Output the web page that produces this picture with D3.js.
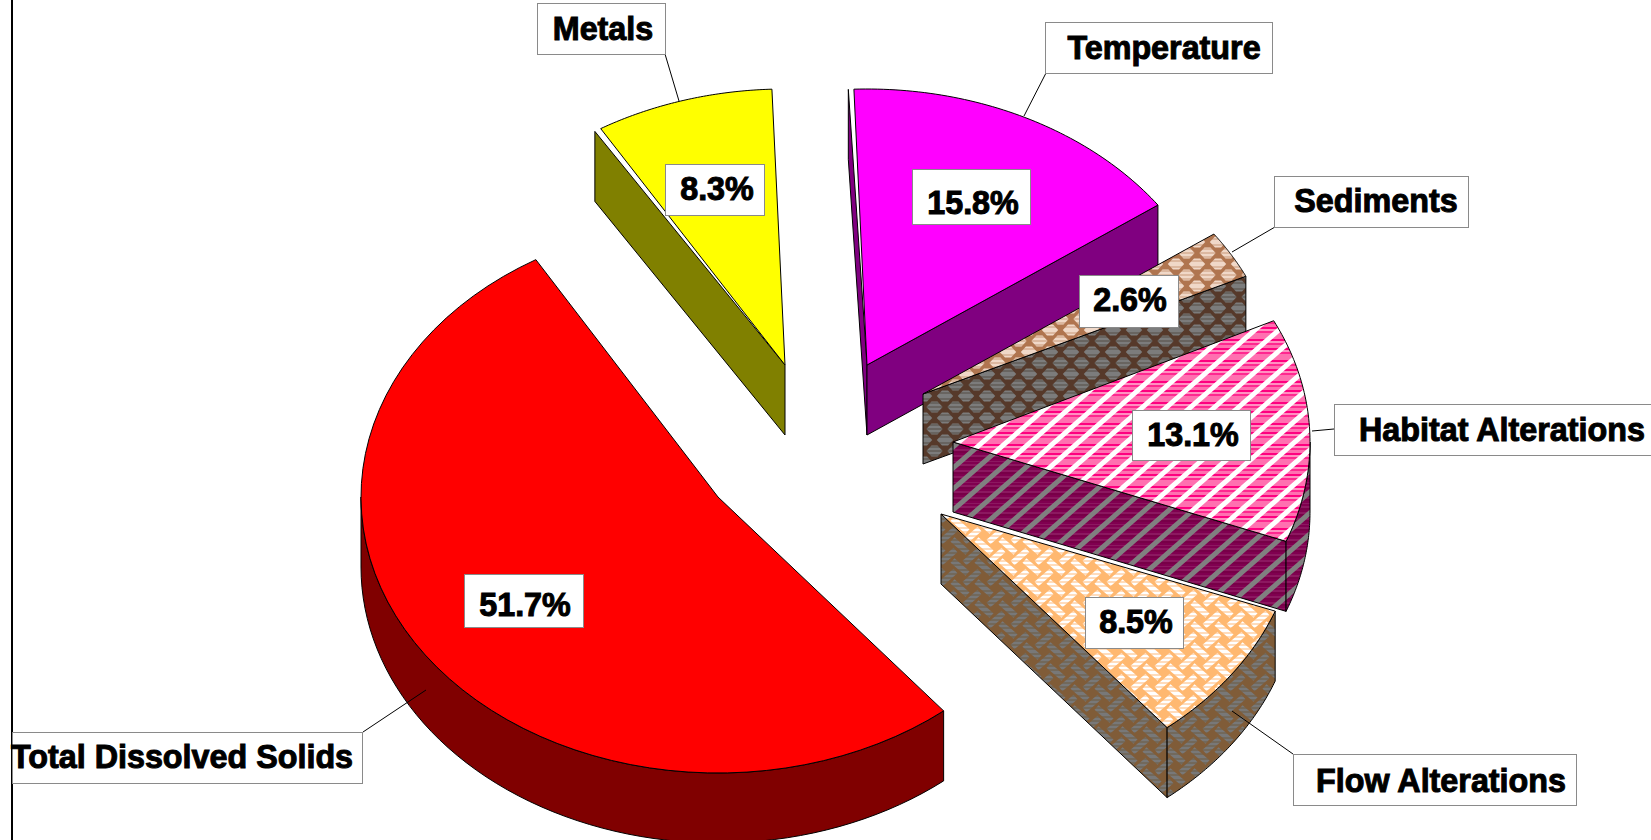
<!DOCTYPE html>
<html>
<head>
<meta charset="utf-8">
<title>Share of impairment by stressor</title>
<script src="https://cdn.jsdelivr.net/npm/d3@7/dist/d3.min.js"></script>
<style>
  html, body { margin: 0; padding: 0; background: #fff; overflow: hidden; }
  svg { display: block; }
  text { font-family: "Liberation Sans", Arial, sans-serif; font-weight: 700; font-size: 32.3px; fill: #000; stroke: #000; stroke-width: 1px; }
</style>
</head>
<body>
<svg id="chart" width="1651" height="840"></svg>
<script>
// Slice data, clockwise from the lower right edge of the largest slice
const categories = ["Total Dissolved Solids", "Metals", "Temperature", "Sediments", "Habitat Alterations", "Flow Alterations"];
const shares = [51.7, 8.3, 15.8, 2.6, 13.1, 8.5];

// Flat fills for the top face and the darker side wall
const topFills = ["#ff0000", "#ffff00", "#ff00ff", "url(#sedTop)", "url(#habTop)", "url(#flowTop)"];
const wallFills = ["#800000", "#808000", "#800080", "url(#sedWall)", "url(#habWall)", "url(#flowWall)"];

// Layout: pull-out of each slice, small angular trims of its faces, and callout places
const centre = { x: 718, y: 497 };
const radii = { x: 357, y: 276 };
const depth = 70;
const startDeg = 141.7;
const pullOut = [[0, 0], [67, -132], [149, -132], [205, -103], [235, -55], [223, 17]];
const faceTrimDeg = [[-0.9, 1.5], [1.1, 0.2], [0.2, 0], [0, 0.8], [0, 0], [-0.5, -1]];
const wallOutsetDeg = [0, 1.1, 0.9, 0, 0, 0];

const nameBoxes = [[12, 732, 350, 51], [537, 3, 128, 51], [1045, 22, 227, 51], [1274, 176, 194, 51], [1334, 404, 330, 51], [1293, 754, 283, 51]];
const nameText = [[182, 768], [603, 40], [1164, 59], [1376, 212], [1502, 441], [1441, 792]];
const leaders = [[[363, 732], [426, 690]], [[665, 54], [679, 101]], [[1046, 73], [1024, 116]], [[1275, 227], [1232, 252]], [[1334, 429], [1312, 431]], [[1293, 754], [1232, 711]]];
const valueBoxes = [[464, 574, 119, 53], [665, 164, 99, 51], [912, 169, 118, 55], [1079, 275, 99, 52], [1132, 410, 118, 50], [1085, 597, 98, 51]];
const valueText = [[525, 616], [717, 200], [973, 214], [1130, 311], [1193, 446], [1136, 633]];

const svg = d3.select("#chart");
const defs = svg.append("defs");
const rad = d => d * Math.PI / 180;

// Fine horizontal banding used inside the hatch pattern marks
function bands(id, rows) {
  const h = d3.sum(rows, r => r[1]);
  const p = defs.append("pattern").attr("id", id).attr("patternUnits", "userSpaceOnUse").attr("width", 4).attr("height", h);
  let y = 0;
  rows.forEach(([c, t]) => { p.append("rect").attr("y", y).attr("width", 4).attr("height", t).attr("fill", c); y += t; });
  return `url(#${id})`;
}

function tile(id, w, h, base) {
  const p = defs.append("pattern").attr("id", id).attr("patternUnits", "userSpaceOnUse").attr("width", w).attr("height", h);
  p.append("rect").attr("width", w).attr("height", h).attr("fill", base);
  return p;
}

// Staggered diamonds
function diamondTile(id, base, mark) {
  const w = 21, h = 22;
  const p = tile(id, w, h, base);
  [[0, 0], [w, 0], [0, h], [w, h], [w / 2, h / 2]].forEach(([x, y]) => {
    p.append("path").attr("fill", mark)
      .attr("d", `M${x - 8.2},${y}L${x - 3},${y - 5.6}H${x + 3}L${x + 8.2},${y}L${x + 3},${y + 5.6}H${x - 3}Z`);
  });
}

// Diagonal stripes over horizontally banded ground
function stripeTile(id, base, stripe) {
  const w = 24, h = 21;
  const p = tile(id, w, h, base);
  p.append("path").attr("stroke", stripe).attr("stroke-width", 5).attr("fill", "none")
    .attr("d", `M${-w},${h}L${w},${-h}M${-w},${2 * h}L${2 * w},${-h}M0,${2 * h}L${2 * w},0`);
}

// Interlocking short bars laid on the two diagonals
function weaveTile(id, base, mark) {
  const w = 24, h = 21;
  const p = tile(id, w, h, base);
  const bar = (x, y, sx) => p.append("line").attr("stroke", mark).attr("stroke-width", 6)
    .attr("x1", x - 7.5 * sx).attr("y1", y - 6.6).attr("x2", x + 7.5 * sx).attr("y2", y + 6.6);
  [[0, 0], [w, 0], [0, h], [w, h]].forEach(([x, y]) => bar(x, y, 1));
  bar(w / 2, h / 2, -1);
}

diamondTile("sedTop", "#b0754f", bands("sedMark", [["#f0d8c8", 2], ["#dcb8a0", 2]]));
diamondTile("sedWall", "#56392a", bands("sedWallMark", [["#7c7c7c", 2], ["#686460", 2]]));
stripeTile("habTop", bands("habBase", [["#ff70b0", 3], ["#ff0080", 2], ["#ff90c0", 2], ["#ff2890", 2]]), "#ffffff");
stripeTile("habWall", bands("habWallBase", [["#800050", 2], ["#8c1860", 2], ["#780048", 2]]), "#808080");
weaveTile("flowTop", "#ffb870", bands("flowMark", [["#ffffff", 2], ["#ffdcbc", 2]]));
weaveTile("flowWall", "#805c38", bands("flowWallMark", [["#787878", 2], ["#72695c", 2]]));

const pie = d3.pie().sort(null).value(d => d)
  .startAngle(rad(startDeg)).endAngle(rad(startDeg + 360));
const arcs = pie(shares);

const outline = d3.line().x(d => d[0]).y(d => d[1]);

arcs.forEach((a, i) => {
  const cx = centre.x + pullOut[i][0];
  const cy = centre.y + pullOut[i][1];
  const at = t => [cx + radii.x * Math.sin(t), cy - radii.y * Math.cos(t)];
  const sweep = (t0, t1) => d3.range(0, 61).map(k => at(t0 + (t1 - t0) * k / 60));
  const down = p => [p[0], p[1] + depth];
  const g = svg.append("g").attr("class", "slice");
  const wall = pts => g.append("path")
    .attr("d", outline(pts.concat(pts.slice().reverse().map(down))) + "Z")
    .attr("fill", wallFills[i]).attr("stroke", "#000").attr("stroke-width", 1).attr("stroke-linejoin", "round");

  const startAngle = a.startAngle + rad(faceTrimDeg[i][0]);
  const endAngle = a.endAngle + rad(faceTrimDeg[i][1]);
  const apex = [cx, cy];
  const first = at(startAngle - rad(wallOutsetDeg[i]));
  const last = at(endAngle);

  // Only faces turned towards the viewer are drawn
  if (first[0] < cx) wall([apex, first]);
  if (last[0] > cx) wall([last, apex]);
  [[90, 270], [450, 630]].forEach(([lo, hi]) => {
    const t0 = Math.max(startAngle, rad(lo));
    const t1 = Math.min(endAngle, rad(hi));
    if (t1 > t0) wall(sweep(t0, t1));
  });

  g.append("path")
    .attr("d", outline([apex].concat(sweep(startAngle, endAngle))) + "Z")
    .attr("fill", topFills[i]).attr("stroke", "#000").attr("stroke-width", 1).attr("stroke-linejoin", "round");
});

// Axis stub on the left of the plot
svg.append("line").attr("x1", 12).attr("x2", 12).attr("y1", 0).attr("y2", 840)
  .attr("stroke", "#000").attr("stroke-width", 2);

// Callouts
const callout = (boxes, texts, strings) => {
  const g = svg.append("g").selectAll("g").data(strings).join("g");
  g.append("rect")
    .attr("x", (d, i) => boxes[i][0] + 0.5).attr("y", (d, i) => boxes[i][1] + 0.5)
    .attr("width", (d, i) => boxes[i][2]).attr("height", (d, i) => boxes[i][3])
    .attr("fill", "#fff").attr("stroke", "#8a8a8a").attr("stroke-width", 1);
  g.append("text")
    .attr("x", (d, i) => texts[i][0]).attr("y", (d, i) => texts[i][1])
    .attr("text-anchor", "middle").text(d => d);
};

svg.append("g").selectAll("line").data(leaders).join("line")
  .attr("x1", d => d[0][0]).attr("y1", d => d[0][1])
  .attr("x2", d => d[1][0]).attr("y2", d => d[1][1])
  .attr("stroke", "#000").attr("stroke-width", 1);

callout(valueBoxes, valueText, shares.map(v => v.toFixed(1) + "%"));
callout(nameBoxes, nameText, categories);
</script>
</body>
</html>
